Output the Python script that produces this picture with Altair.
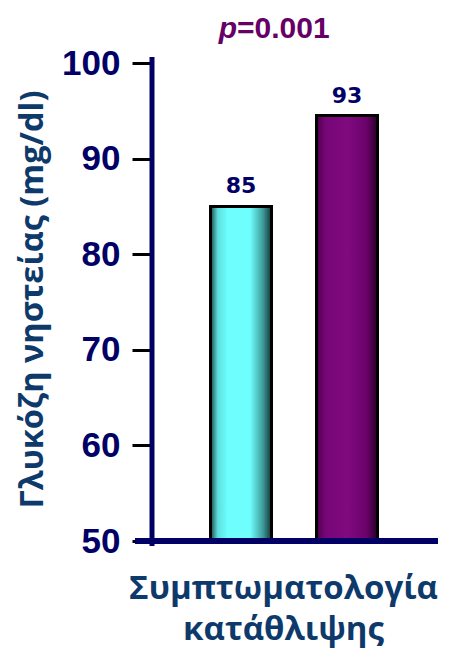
import altair as alt
import pandas as pd

categories = ["Χωρίς", "Με"]
values = [85, 94.5]
labels = ["85", "93"]
y_ticks = [50, 60, 70, 80, 90, 100]
y_title = "Γλυκόζη νηστείας (mg/dl)"
x_title = ["Συμπτωματολογία", "κατάθλιψης"]
p_prefix = "p"
p_rest = "=0.001"

df = pd.DataFrame({"group": categories, "value": values, "label": labels})
one = pd.DataFrame({"k": [0]})

NAVY = "#000066"
TITLE = "#0d3a6b"
PURPLE = "#660066"

x_enc = alt.X(
    "group:N", sort=categories,
    scale=alt.Scale(paddingInner=0.4245, paddingOuter=0.552),
    axis=alt.Axis(labels=False, ticks=False, domain=False, title=x_title,
                  titleFont="Open Sans", titleFontSize=33, titleFontWeight="bold",
                  titleColor=TITLE, titleX=131, titleY=57, titleAlign="center",
                  titleBaseline="alphabetic", titleLineHeight=41),
)
y_enc = alt.Y(
    "value:Q",
    scale=alt.Scale(domain=[50, 100], zero=False, nice=False),
    axis=alt.Axis(values=y_ticks, domain=False, grid=False, tickColor="black", tickWidth=3,
                  tickSize=20, labelFont="Liberation Sans", labelFontSize=35,
                  labelFontWeight="bold", labelColor=NAVY, labelPadding=12, labelOverlap=False,
                  title=y_title, titleFont="Open Sans", titleFontSize=32.5,
                  titleFontWeight="bold", titleColor=TITLE, titleX=-120, titleY=236,
                  titleAngle=270, titleAlign="center", titleBaseline="middle"),
)

grad_cyan = alt.LinearGradient(
    gradient="linear", x1=0, x2=1, y1=0, y2=0,
    stops=[alt.GradientStop(color="#1c4848", offset=0),
           alt.GradientStop(color="#5cdede", offset=0.12),
           alt.GradientStop(color="#6efefe", offset=0.28),
           alt.GradientStop(color="#6efefe", offset=0.65),
           alt.GradientStop(color="#3f9a9a", offset=0.86),
           alt.GradientStop(color="#123434", offset=1)])
grad_purple = alt.LinearGradient(
    gradient="linear", x1=0, x2=1, y1=0, y2=0,
    stops=[alt.GradientStop(color="#4a004a", offset=0),
           alt.GradientStop(color="#760676", offset=0.15),
           alt.GradientStop(color="#800a80", offset=0.5),
           alt.GradientStop(color="#6a026a", offset=0.82),
           alt.GradientStop(color="#2a002a", offset=1)])

base = alt.Chart(df)
bar_c = base.transform_filter(alt.datum.group == categories[0]).mark_bar(
    fill=grad_cyan, stroke="black", strokeWidth=3
).encode(x=x_enc, y=y_enc, y2=alt.datum(50))
bar_p = base.transform_filter(alt.datum.group == categories[1]).mark_bar(
    fill=grad_purple, stroke="black", strokeWidth=3
).encode(x=x_enc, y=y_enc, y2=alt.datum(50))

txt = base.mark_text(font="DejaVu Sans", fontWeight="bold", fontSize=22, color=NAVY,
                     baseline="alphabetic", dy=-13).encode(x=x_enc, y=y_enc, text="label:N")

yline = alt.Chart(one).mark_rule(color=NAVY, strokeWidth=5).encode(
    x=alt.value(0), y=alt.value(-6), y2=alt.value(483))
xline = alt.Chart(one).mark_rule(color=NAVY, strokeWidth=6).encode(
    x=alt.value(-17), x2=alt.value(286), y=alt.value(478))

p1 = alt.Chart(one).mark_text(text=p_prefix, font="Liberation Sans", fontStyle="italic",
                              fontWeight="bold", fontSize=30, color=PURPLE, align="right",
                              baseline="alphabetic").encode(x=alt.value(85), y=alt.value(-25))
p2 = alt.Chart(one).mark_text(text=p_rest, font="Liberation Sans", fontWeight="bold",
                              fontSize=30, color=PURPLE, align="left",
                              baseline="alphabetic").encode(x=alt.value(85), y=alt.value(-25))

chart = alt.layer(bar_c, bar_p, txt, yline, xline, p1, p2).properties(
    width=284, height=478,
    autosize=alt.AutoSizeParams(type="none"),
    padding={"left": 144, "top": 55, "right": 5, "bottom": 109},
).configure_view(strokeWidth=0)

chart.save("out.html", embed_options={"renderer": "svg", "actions": False})
